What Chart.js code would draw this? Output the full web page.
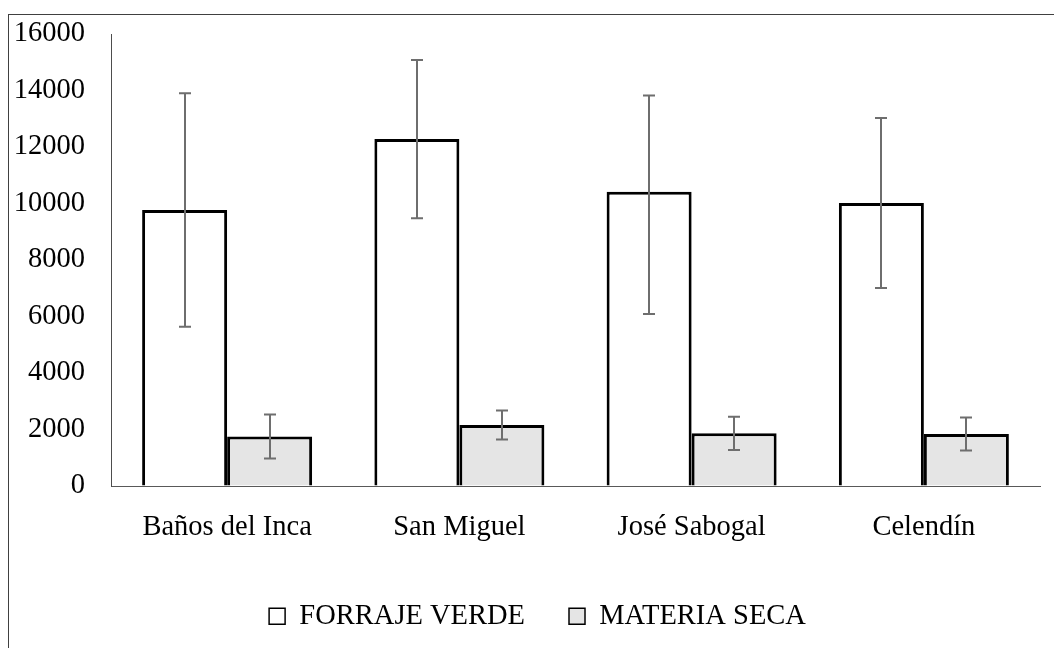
<!DOCTYPE html>
<html>
<head>
<meta charset="utf-8">
<script src="https://cdn.jsdelivr.net/npm/chart.js@4"></script>
<style>
    body { margin: 0; background: #fff; overflow: hidden; }
    .frame { position: absolute; left: 8px; top: 14px; width: 1100px; height: 700px; border: 1px solid #404040; }
    .wrap { position: absolute; left: 0; top: 0; width: 1054px; height: 648px; }
</style>
</head>
<body>
<div class="frame"></div>
<div class="wrap"><canvas id="chart" width="1054" height="648"></canvas></div>
<script>
const categories = ['Baños del Inca', 'San Miguel', 'José Sabogal', 'Celendín'];
const forrajeVerde = [9770, 12280, 10420, 10020];
const forrajeErrPlus = [4130, 2800, 3400, 3010];
const forrajeErrMinus = [4130, 2800, 4330, 3010];
const materiaSeca = [1750, 2160, 1865, 1840];
const secaErrPlus = [780, 510, 590, 585];
const secaErrMinus = [780, 510, 590, 585];
const yTicks = [0, 2000, 4000, 6000, 8000, 10000, 12000, 14000, 16000];

const font = { family: "'Liberation Serif', 'Times New Roman', serif", size: 28.5 };

const errorBars = {
    id: 'errorBars',
    afterDatasetsDraw(chart) {
        const { ctx } = chart;
        const y = chart.scales.y;
        chart.data.datasets.forEach((ds, i) => {
            const meta = chart.getDatasetMeta(i);
            meta.data.forEach((bar, j) => {
                const v = ds.data[j];
                const top = y.getPixelForValue(v + ds.errPlus[j]);
                const bottom = y.getPixelForValue(v - ds.errMinus[j]);
                const x = Math.round(bar.x);
                ctx.save();
                ctx.strokeStyle = '#6e6e6e';
                ctx.lineWidth = 2;
                ctx.beginPath();
                ctx.moveTo(x, top);
                ctx.lineTo(x, bottom);
                ctx.moveTo(x - 6, top);
                ctx.lineTo(x + 6, top);
                ctx.moveTo(x - 6, bottom);
                ctx.lineTo(x + 6, bottom);
                ctx.stroke();
                ctx.restore();
            });
        });
    }
};

// push the legend a bit right, like the original
const legendShift = {
    id: 'legendShift',
    afterLayout(chart) {
        chart.legend.left += 35;
    }
};

new Chart(document.getElementById('chart').getContext('2d'), {
    type: 'bar',
    data: {
        labels: categories,
        datasets: [
            {
                label: 'FORRAJE VERDE',
                data: forrajeVerde,
                errPlus: forrajeErrPlus,
                errMinus: forrajeErrMinus,
                backgroundColor: '#ffffff',
                borderColor: '#000000',
                borderWidth: 3,
                categoryPercentage: 0.732,
                barPercentage: 1.0
            },
            {
                label: 'MATERIA SECA',
                data: materiaSeca,
                errPlus: secaErrPlus,
                errMinus: secaErrMinus,
                backgroundColor: '#e5e5e5',
                borderColor: '#000000',
                borderWidth: 3,
                categoryPercentage: 0.732,
                barPercentage: 1.0
            }
        ]
    },
    options: {
        responsive: false,
        animation: false,
        layout: { padding: { left: 0, right: 14, top: 34, bottom: 7.5 } },
        plugins: {
            legend: {
                position: 'bottom',
                labels: {
                    font: font,
                    color: '#000',
                    boxWidth: 16,
                    boxHeight: 16,
                    padding: 44,
                    generateLabels: (chart) => Chart.defaults.plugins.legend.labels.generateLabels(chart)
                        .map(l => Object.assign(l, { lineWidth: 1.5 }))
                }
            },
            tooltip: { enabled: false }
        },
        scales: {
            x: {
                grid: { display: true, drawOnChartArea: false, drawTicks: false },
                border: { display: true, color: '#595959', width: 1 },
                ticks: { font: font, color: '#000', padding: 24, maxRotation: 0 },
                afterFit: (s) => { s.height = 72; }
            },
            y: {
                min: 0,
                max: 16000,
                afterBuildTicks: (s) => { s.ticks = yTicks.map(v => ({ value: v })); },
                grid: { display: true, drawOnChartArea: false, drawTicks: false },
                border: { display: true, color: '#4d4d4d', width: 1 },
                ticks: { font: font, color: '#000', padding: 26, callback: (v) => String(v) },
                afterFit: (s) => { s.width = 111; s.paddingTop = 0; s.paddingBottom = 0; }
            }
        }
    },
    plugins: [errorBars, legendShift]
});
</script>
</body>
</html>
